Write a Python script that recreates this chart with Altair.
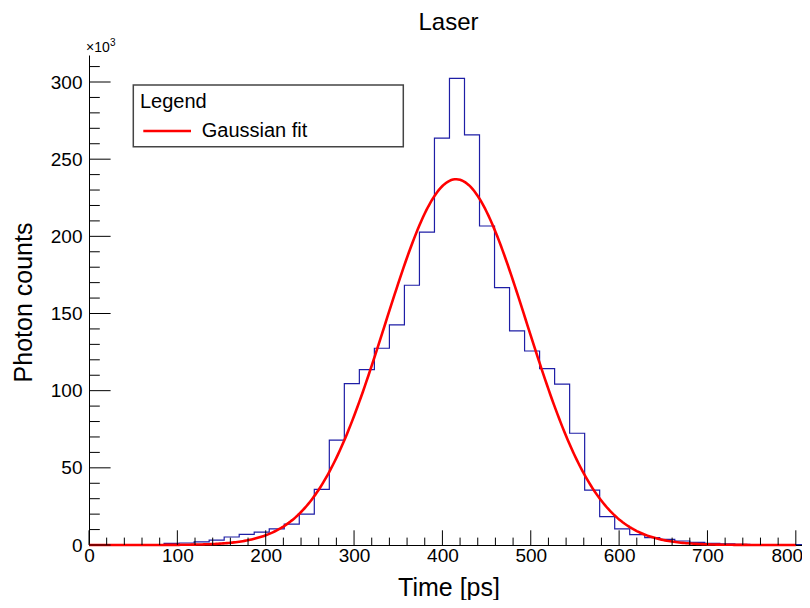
import altair as alt
import numpy as np
import pandas as pd

# ---------------- data ----------------
bin_width = 17  # ps
counts_k = [0, 0, 0, 0, 0.3, 1.0, 1.3, 2.0, 3.2, 5.2, 6.9, 8.4, 10.4, 13.5, 20.0, 36.1,
            68.0, 104.6, 113.6, 127.5, 142.6, 168.3, 202.7, 263.6, 302.4, 265.7, 206.7,
            166.8, 138.7, 125.7, 114.3, 104.3, 72.4, 35.6, 18.4, 10.4, 6.7, 4.8, 3.7,
            2.6, 1.7, 1.1, 0.8, 0.5, 0.3, 0.2, 0.2, 0.3]
# Gaussian fit parameters
fit_amp_k = 237.0
fit_mean = 415.5
fit_sigma = 80.0
fit_range = [0, 800]

x_major = [0, 100, 200, 300, 400, 500, 600, 700, 800]
y_major = [0, 50, 100, 150, 200, 250, 300]
x_minor = [v for v in range(0, 801, 20) if v % 100]
y_minor = [v for v in range(0, 311, 10) if v % 50]

x_domain = [0, 807]
y_domain = [0, 317.5]

title_text = "Laser"
x_title = "Time [ps]"
y_title = "Photon counts"
legend_title = "Legend"
legend_entry = "Gaussian fit"

# ---------------- build tables ----------------
edges = [i * bin_width for i in range(len(counts_k) + 1)]
hist = pd.DataFrame({"x": edges, "y": counts_k + [counts_k[-1]]})

fx = np.linspace(fit_range[0], fit_range[1], 401)
fit = pd.DataFrame({"x": fx, "y": fit_amp_k * np.exp(-0.5 * ((fx - fit_mean) / fit_sigma) ** 2)})

W, H = 713, 490
FONT = "Liberation Sans"
BLUE = "#1e1ea6"
RED = "#ff0000"

xs = alt.Scale(domain=x_domain, nice=False, zero=False)
ys = alt.Scale(domain=y_domain, nice=False, zero=False)

x_axis = alt.Axis(
    values=x_major, tickSize=0, labelFontSize=19, labelFont=FONT, labelColor="black",
    labelPadding=1, labelOverlap=False, labelFlush=False, domainColor="black", domainWidth=1,
    labelOffset={"expr": "datum.value == 800 ? -9 : 0"},
    grid=False, title=x_title, titleFont=FONT, titleFontSize=25, titleFontWeight="normal",
    titleColor="black", titleBaseline="alphabetic", titleX=359.5, titleY=50, titleAlign="center")
y_axis = alt.Axis(
    values=y_major, tickSize=0, labelFontSize=19, labelFont=FONT, labelColor="black",
    labelPadding=7, labelOverlap=False, labelFlush=False, domainColor="black", domainWidth=1,
    grid=False, title=y_title, titleFont=FONT, titleFontSize=25, titleFontWeight="normal",
    titleColor="black", titleBaseline="alphabetic", titleX=-58, titleY=247, titleAlign="center",
    titleAngle=270)


def X(field="x"):
    return alt.X(f"{field}:Q", scale=xs, axis=x_axis, title=x_title)


def Y(field="y"):
    return alt.Y(f"{field}:Q", scale=ys, axis=y_axis, title=y_title)


hist_layer = alt.Chart(hist).mark_line(
    interpolate="step-after", color=BLUE, strokeWidth=1.2, clip=True).encode(x=X(), y=Y())

fit_layer = alt.Chart(fit).mark_line(color=RED, strokeWidth=2.6).encode(x=X(), y=Y())


def xticks(vals, length):
    return alt.Chart(pd.DataFrame({"x": vals})).mark_rule(color="black", strokeWidth=1).encode(
        x=X(), y=alt.value(H), y2=alt.value(H - length))


def yticks(vals, length):
    return alt.Chart(pd.DataFrame({"y": vals})).mark_rule(color="black", strokeWidth=1).encode(
        y=Y(), x=alt.value(0), x2=alt.value(length))


one = pd.DataFrame({"a": [0]})

legend_box = alt.Chart(one).mark_rect(fill="white", stroke="#444444", strokeWidth=1.5).encode(
    x=alt.value(44.3), x2=alt.value(314.3), y=alt.value(30), y2=alt.value(91.7))
legend_line = alt.Chart(one).mark_rule(color=RED, strokeWidth=2.6).encode(
    x=alt.value(54.3), x2=alt.value(102), y=alt.value(76))


def text(t, x, y, size, align="left"):
    return alt.Chart(pd.DataFrame({"t": [t]})).mark_text(
        font=FONT, fontSize=size, color="black", align=align, baseline="alphabetic").encode(
        text="t:N", x=alt.value(x), y=alt.value(y))


chart = alt.layer(
    hist_layer, fit_layer,
    xticks(x_major, 14.7), xticks(x_minor, 7.4),
    yticks(y_major, 21.6), yticks(y_minor, 10.8),
    legend_box, legend_line,
    text(legend_title, 51, 52.7, 20),
    text(legend_entry, 112.7, 81.7, 20),
    text(title_text, 359.5, -25, 24, "center"),
    text("×10", -3, -3, 14),
    text("3", 21, -9, 10),
).properties(
    width=W, height=H,
    background="white",
    autosize=alt.AutoSizeParams(type="none"),
    padding={"left": 81, "top": 47, "right": 0, "bottom": 55},
).configure_view(stroke=None)

chart.save("out.html", embed_options={"renderer": "svg", "actions": False})
